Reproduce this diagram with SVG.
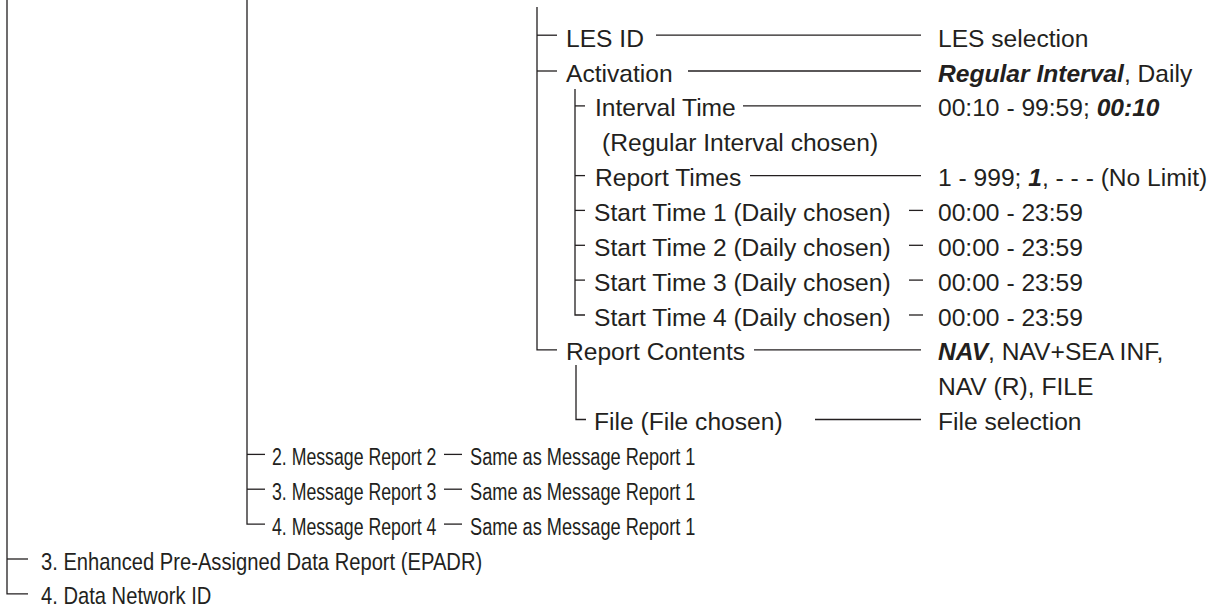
<svg xmlns="http://www.w3.org/2000/svg" width="1219" height="608" viewBox="0 0 1219 608">
<style>
text{font-family:"Liberation Sans",Arial,sans-serif;font-size:24.6px;fill:#231f20}
.bi{font-weight:bold;font-style:italic}
.c line,.c path{stroke:#231f20;stroke-width:1.3;fill:none}
</style>
<rect width="1219" height="608" fill="#ffffff"/>
<g class="c" id="connectors">
<path d="M7 0V593.8H28"/>
<line x1="7" y1="559" x2="28" y2="559"/>
<path d="M247 0V524.1H265"/>
<line x1="247" y1="454.4" x2="265" y2="454.4"/>
<line x1="247" y1="489.2" x2="265" y2="489.2"/>
<line x1="444" y1="454.4" x2="462" y2="454.4"/>
<line x1="444" y1="489.2" x2="462" y2="489.2"/>
<line x1="444" y1="524.1" x2="462" y2="524.1"/>
<path d="M537 7V349.8H557"/>
<line x1="537" y1="35.2" x2="557" y2="35.2"/>
<line x1="537" y1="71" x2="557" y2="71"/>
<path d="M575 89V315H585"/>
<line x1="575" y1="105.9" x2="585" y2="105.9"/>
<line x1="575" y1="175.6" x2="585" y2="175.6"/>
<line x1="575" y1="210.4" x2="585" y2="210.4"/>
<line x1="575" y1="245.3" x2="585" y2="245.3"/>
<line x1="575" y1="280.1" x2="585" y2="280.1"/>
<path d="M576 365V419.5H586"/>
<line x1="656" y1="35.2" x2="921" y2="35.2"/>
<line x1="688" y1="71" x2="921" y2="71"/>
<line x1="743" y1="105.9" x2="921" y2="105.9"/>
<line x1="750" y1="175.6" x2="921" y2="175.6"/>
<line x1="909" y1="210.4" x2="923" y2="210.4"/>
<line x1="909" y1="245.3" x2="923" y2="245.3"/>
<line x1="909" y1="280.1" x2="923" y2="280.1"/>
<line x1="909" y1="315" x2="923" y2="315"/>
<line x1="754" y1="349.8" x2="921" y2="349.8"/>
<line x1="815" y1="419.5" x2="921" y2="419.5"/>
</g>
<g id="les-id"><text x="566" y="46.7">LES ID</text><text x="938" y="46.7">LES selection</text></g>
<g id="activation"><text x="566" y="81.5">Activation</text><text x="938" y="81.5"><tspan class="bi">Regular Interval</tspan>, Daily</text></g>
<g id="interval-time"><text x="595" y="116.4">Interval Time</text><text x="602" y="151.2">(Regular Interval chosen)</text><text x="938" y="116.4">00:10 - 99:59; <tspan class="bi">00:10</tspan></text></g>
<g id="report-times"><text x="595" y="186.1">Report Times</text><text x="938" y="186.1">1 - 999; <tspan class="bi">1</tspan>, - - - (No Limit)</text></g>
<g id="start-time-1"><text x="594" y="220.9">Start Time 1 (Daily chosen)</text><text x="938" y="220.9">00:00 - 23:59</text></g>
<g id="start-time-2"><text x="594" y="255.8">Start Time 2 (Daily chosen)</text><text x="938" y="255.8">00:00 - 23:59</text></g>
<g id="start-time-3"><text x="594" y="290.6">Start Time 3 (Daily chosen)</text><text x="938" y="290.6">00:00 - 23:59</text></g>
<g id="start-time-4"><text x="594" y="325.5">Start Time 4 (Daily chosen)</text><text x="938" y="325.5">00:00 - 23:59</text></g>
<g id="report-contents"><text x="566" y="360.3">Report Contents</text><text x="938" y="360.3"><tspan class="bi">NAV</tspan>, NAV+SEA INF,</text><text x="938" y="395.2">NAV (R), FILE</text></g>
<g id="file"><text x="594" y="430">File (File chosen)</text><text x="938" y="430">File selection</text></g>
<g id="message-report-2"><text transform="translate(272 464.9) scale(0.72 1)">2. Message Report 2</text><text transform="translate(470 464.9) scale(0.74 1)">Same as Message Report 1</text></g>
<g id="message-report-3"><text transform="translate(272 499.7) scale(0.72 1)">3. Message Report 3</text><text transform="translate(470 499.7) scale(0.74 1)">Same as Message Report 1</text></g>
<g id="message-report-4"><text transform="translate(272 534.6) scale(0.72 1)">4. Message Report 4</text><text transform="translate(470 534.6) scale(0.74 1)">Same as Message Report 1</text></g>
<g id="epadr"><text transform="translate(41 569.5) scale(0.82 1)">3. Enhanced Pre-Assigned Data Report (EPADR)</text></g>
<g id="data-network-id"><text transform="translate(41 604.3) scale(0.82 1)">4. Data Network ID</text></g>
</svg>
